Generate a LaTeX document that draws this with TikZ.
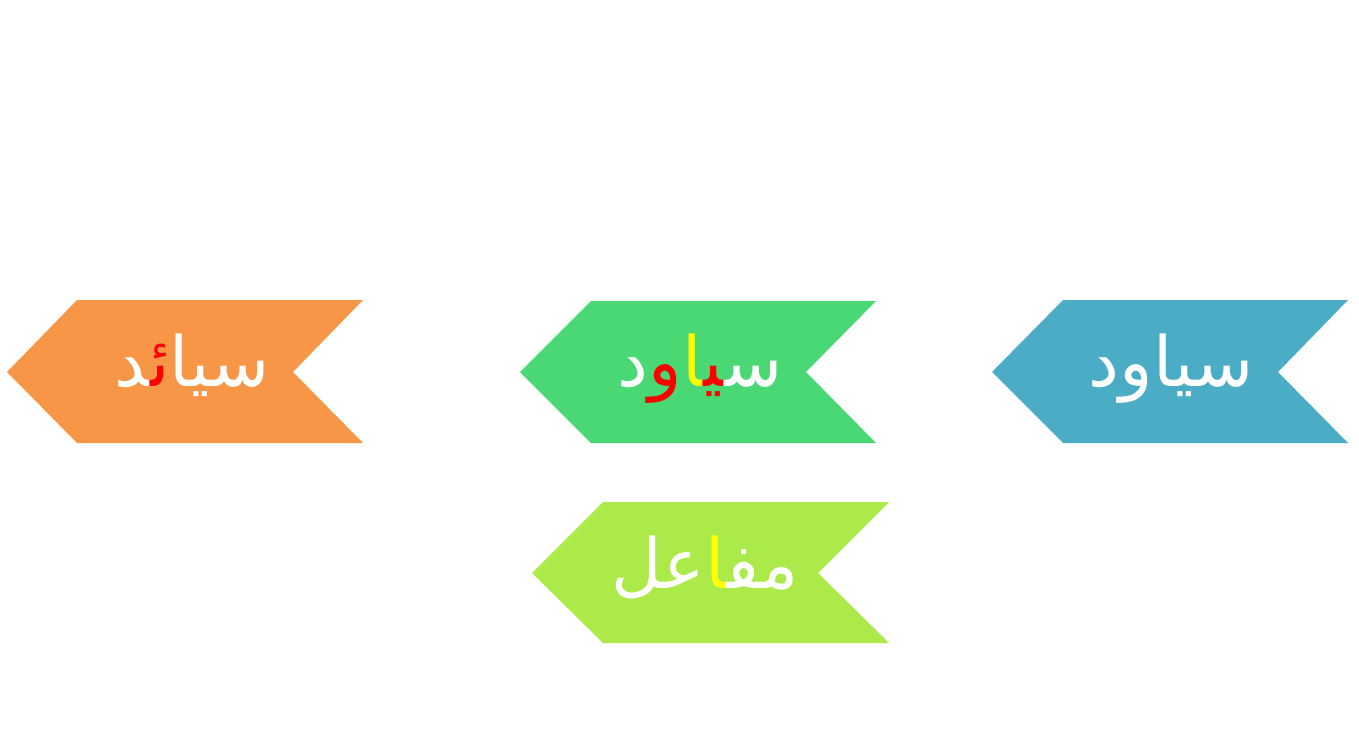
\documentclass[tikz,border=0pt]{standalone}
\usepackage{fontspec}
\newfontfamily\arabicfont[Script=Arabic]{DejaVu Sans}
\TeXXeTstate=1
\definecolor{cblue}{HTML}{4BACC6}
\definecolor{cgreen}{HTML}{4AD874}
\definecolor{corange}{HTML}{F79646}
\definecolor{clime}{HTML}{ABEA48}
\definecolor{cyel}{HTML}{FFFF00}
\definecolor{cred}{HTML}{FF0000}
% pieces are listed in visual order, left to right
\newcommand{\piece}[2]{\hbox{\textcolor{#1}{#2}}}
\tikzset{
  chevron/.style={fill=#1, draw=none},
  word/.style={anchor=base, inner sep=0pt, text=white, font=\arabicfont\fontsize{52}{62}\selectfont}
}
\begin{document}
\begin{tikzpicture}[x=0.75pt,y=-0.75pt]
\useasboundingbox (0,0) rectangle (1359,744);
% chevrons
\fill[chevron=cblue] (992,372) -- (1063,300) -- (1348,300) -- (1278,372) -- (1348,443) -- (1063,443) -- cycle;
\fill[chevron=cgreen] (520,372) -- (591,301) -- (876,301) -- (806,372) -- (876,443) -- (591,443) -- cycle;
\fill[chevron=corange] (7,372) -- (77,300) -- (363,300) -- (293,372) -- (363,443) -- (77,443) -- cycle;
\fill[chevron=clime] (532,573) -- (603,502) -- (889,502) -- (818,573) -- (889,643) -- (603,643) -- cycle;
% words
\node[word] (tblue) at (1171,386) {\beginR سياود\endR};
\node[word] (tgreen) at (700,386) {\piece{white}{د}\piece{cred}{و}\piece{cyel}{^^^^200dا}\piece{cred}{^^^^200dي^^^^200d}\piece{white}{س^^^^200d}};
\node[word] (torange) at (192,386) {\piece{white}{^^^^200dد}\piece{cred}{ئ^^^^200d}\piece{white}{سيا}};
\node[word] (tlime) at (705,588) {\piece{white}{عل}\piece{cyel}{^^^^200dا}\piece{white}{مف^^^^200d}};
\end{tikzpicture}
\end{document}
